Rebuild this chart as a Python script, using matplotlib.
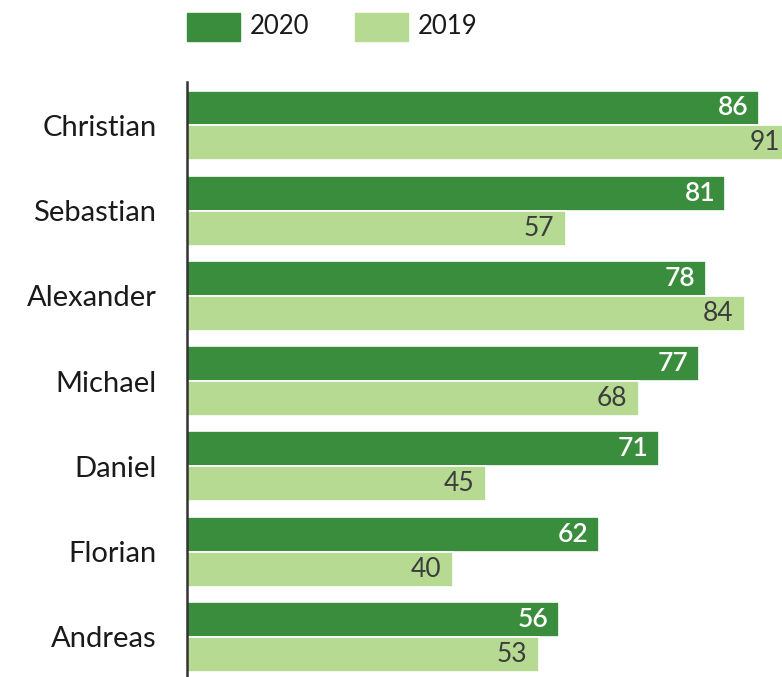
import matplotlib
matplotlib.use("Agg")
import matplotlib.pyplot as plt
from matplotlib.patches import Rectangle
import numpy as np

names = ["Christian", "Sebastian", "Alexander", "Michael", "Daniel", "Florian", "Andreas"]
vals_2020 = [86, 81, 78, 77, 71, 62, 56]
vals_2019 = [91, 57, 84, 68, 45, 40, 53]

dark_green = "#3a8d3c"
light_green = "#b6da91"
label_gray = "#3c3c3c"

plt.rcParams["font.family"] = ["Lato", "DejaVu Sans"]

W, H = 782, 677
fig = plt.figure(figsize=(W / 100, H / 100), dpi=100)
ax = fig.add_axes([187 / W, 0, 1 - 187 / W, (H - 82) / H])

y = np.arange(len(names))
h = 0.41
ax.barh(y - h / 2, vals_2020, height=h, color=dark_green, edgecolor="white", linewidth=1.2)
ax.barh(y + h / 2, vals_2019, height=h, color=light_green, edgecolor="white", linewidth=1.2)

ax.set_xlim(0, 89.5)
ax.set_ylim(6.47, -0.51)

for i in range(len(names)):
    ax.annotate(str(vals_2020[i]), (vals_2020[i], y[i] - h / 2), xytext=(-7.5, 0),
                textcoords="offset points", ha="right", va="center",
                color="white", fontsize=19, fontweight="semibold")
    ax.annotate(str(vals_2019[i]), (vals_2019[i], y[i] + h / 2), xytext=(-8.5, 0),
                textcoords="offset points", ha="right", va="center",
                color=label_gray, fontsize=19, annotation_clip=False)

ax.set_yticks(y)
ax.set_yticklabels(names, fontsize=21, color="#1a1a1a")
ax.tick_params(axis="y", length=0, pad=22)
ax.set_xticks([])
for s in ["top", "right", "bottom"]:
    ax.spines[s].set_visible(False)
ax.spines["left"].set_color("#333333")
ax.spines["left"].set_linewidth(1.8)

# legend
fig.add_artist(Rectangle((187 / W, 1 - 41 / H), 53 / W, 28 / H, color=dark_green,
                         transform=fig.transFigure))
fig.text(250 / W, 1 - 27 / H, "2020", fontsize=18.5, va="center", ha="left", color="#1a1a1a")
fig.add_artist(Rectangle((355 / W, 1 - 41 / H), 53 / W, 28 / H, color=light_green,
                         transform=fig.transFigure))
fig.text(418 / W, 1 - 27 / H, "2019", fontsize=18.5, va="center", ha="left", color="#1a1a1a")

fig.savefig("out.png", dpi=100)
